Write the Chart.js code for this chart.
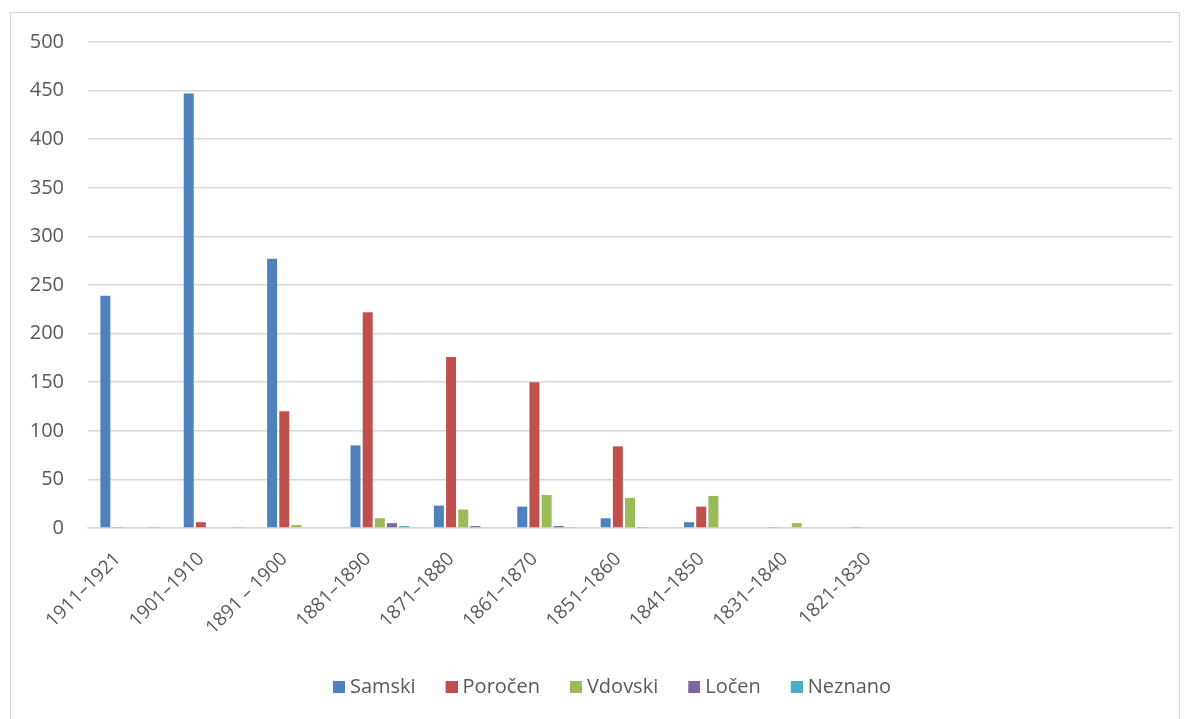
<!DOCTYPE html>
<html>
<head>
<meta charset="utf-8">
<script src="https://cdn.jsdelivr.net/npm/chart.js@4.4.0/dist/chart.umd.min.js"></script>
<style>
html,body{margin:0;padding:0;background:#fff;}
#wrap{position:relative;width:1190px;height:719px;}
#frame{position:absolute;left:10px;top:12px;width:1170px;height:710px;border:1.5px solid #d9d9d9;box-sizing:border-box;}
canvas{position:absolute;left:0;top:0;}
</style>
</head>
<body>
<div id="wrap">
<div id="frame"></div>
<canvas id="c" width="1190" height="719"></canvas>
</div>
<script>
const categories = ["1911–1921","1901–1910","1891 – 1900","1881–1890","1871–1880","1861–1870","1851–1860","1841–1850","1831–1840","1821-1830","","",""];
const samski   = [239, 447, 277, 85, 23, 22, 10, 6, 1, 1, null, null, null];
const porocen  = [1, 6, 120, 222, 176, 150, 84, 22, 0, 0, null, null, null];
const vdovski  = [0, 0, 3, 10, 19, 34, 31, 33, 5, 0, null, null, null];
const locen    = [0, 0, 0, 5, 2, 2, 1, 0, 0, 0, null, null, null];
const neznano  = [1, 1, 0, 2, 0, 1, 0, 0, 0, 0, null, null, null];
const seriesNames = ["Samski","Poročen","Vdovski","Ločen","Neznano"];
const yTicks = [0,50,100,150,200,250,300,350,400,450,500];

const colors = ["#4f81bd","#c0504d","#9bbb59","#8064a2","#4bacc6"];
const data = [samski, porocen, vdovski, locen, neznano];
const font = "'Open Sans', 'Liberation Sans', sans-serif";

// legend swatch: 12x12 square drawn at right part of a 17px-wide transparent canvas
function swatch(color){
  const c = document.createElement('canvas');
  c.width = 17; c.height = 12;
  const g = c.getContext('2d');
  g.fillStyle = color;
  g.fillRect(5, 0, 12, 12);
  return c;
}

const shiftLegend = {
  id: 'shiftLegend',
  afterLayout(chart){
    if (chart.legend) { chart.legend.left += 21; chart.legend.right += 21; }
  }
};

new Chart(document.getElementById('c'), {
  type: 'bar',
  data: {
    labels: categories,
    datasets: data.map((d,i)=>({
      label: seriesNames[i],
      data: d,
      backgroundColor: colors[i],
      borderWidth: 0,
      pointStyle: swatch(colors[i]),
      categoryPercentage: 0.73,
      barPercentage: 0.82
    }))
  },
  plugins: [shiftLegend],
  options: {
    responsive: false,
    animation: false,
    layout: {padding: {left: 10, right: 18, top: 42, bottom: 12}},
    plugins: {
      legend: {
        position: 'bottom',
        labels: {
          usePointStyle: true, pointStyleWidth: 7, boxHeight: 12, padding: 30,
          color: '#595959',
          font: {family: font, size: 20}
        }
      },
      tooltip: {enabled: false}
    },
    scales: {
      x: {
        grid: {display: false, drawTicks: false},
        border: {display: true, color: '#d9d9d9', width: 1.5},
        ticks: {
          color: '#595959', font: {family: font, size: 19},
          minRotation: 45, maxRotation: 45, autoSkip: false, padding: 20, labelOffset: -12
        },
        afterFit: s => { s.height = 119; }
      },
      y: {
        min: 0, max: 500,
        afterBuildTicks: s => { s.ticks = yTicks.map(v=>({value:v})); },
        grid: {color: '#d9d9d9', lineWidth: 1.5, drawTicks: false},
        border: {display: false},
        ticks: {color: '#595959', font: {family: font, size: 20}, padding: 24},
        afterFit: s => { s.width = 78; }
      }
    }
  }
});
</script>
</body>
</html>
